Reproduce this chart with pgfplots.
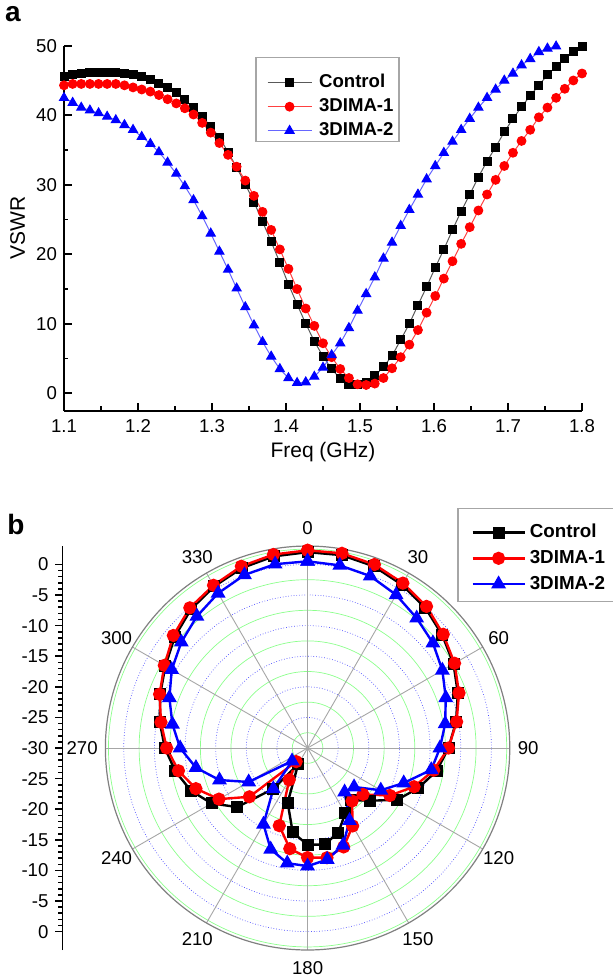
\documentclass[border=0pt]{standalone}
\usepackage{fontspec}
\setmainfont{Liberation Sans}
\usepackage{pgfplots}
\usepackage{pgfplotstable}
\pgfplotsset{compat=1.18}

% VSWR vs frequency
\pgfplotstableread{
f      ctrl  dA    dB
1.1000 45.5  44.3  42.5
1.1117 45.8  44.5  41.8
1.1233 46.0  44.5  41.1
1.1350 46.1  44.5  40.7
1.1467 46.1  44.5  40.3
1.1583 46.1  44.5  39.8
1.1700 46.1  44.5  39.3
1.1817 46.0  44.3  38.6
1.1933 45.8  44.0  37.9
1.2050 45.5  43.7  36.9
1.2167 45.1  43.4  35.9
1.2283 44.6  42.9  34.7
1.2400 44.0  42.3  33.2
1.2517 43.2  41.7  31.6
1.2633 42.2  41.0  29.8
1.2750 41.1  40.1  27.8
1.2867 39.8  38.9  25.5
1.2983 38.4  37.5  23.0
1.3100 36.8  36.0  20.4
1.3217 34.7  34.3  17.8
1.3333 32.5  32.6  15.1
1.3450 30.1  30.6  12.4
1.3567 27.5  28.4  9.8
1.3683 24.7  26.1  7.4
1.3800 21.8  23.5  5.3
1.3917 18.8  20.7  3.5
1.4033 15.7  17.9  2.2
1.4150 12.8  15.0  1.5
1.4267 10.0  12.2  1.6
1.4383 7.5   9.7   2.4
1.4500 5.3   7.2   3.7
1.4617 3.5   5.2   5.5
1.4733 2.1   3.5   7.2
1.4850 1.2   2.2   9.4
1.4967 1.2   1.3   11.9
1.5083 1.6   1.2   14.3
1.5200 2.5   1.4   16.7
1.5317 3.8   2.2   19.4
1.5433 5.4   3.6   21.7
1.5550 7.7   5.2   24.1
1.5667 10.0  7.0   26.4
1.5783 12.7  9.1   28.6
1.5900 15.3  11.6  30.8
1.6017 18.1  14.0  32.7
1.6133 20.7  16.5  34.6
1.6250 23.5  19.0  36.2
1.6367 26.2  21.5  37.9
1.6483 28.6  23.9  39.5
1.6600 31.1  26.3  41.1
1.6717 33.4  28.6  42.5
1.6833 35.4  30.7  43.7
1.6950 37.6  32.7  45.0
1.7067 39.5  34.6  46.0
1.7183 41.2  36.3  47.2
1.7300 42.8  37.9  48.1
1.7417 44.3  39.7  49.1
1.7533 45.8  41.1  49.6
1.7650 47.0  42.5  49.9
1.7767 48.1  43.8  50.5
1.7883 49.2  45.0  51.2
1.8000 49.9  46.0  52.0
}\vswrdata

% radiation pattern, dB, angle clockwise from top
\pgfplotstableread{
ang  ctrl   dA     dB
0    2.0    2.3    0.5
10   2.0    2.3    0.3
20   1.6    1.9   -0.1
30   0.8    1.1   -1.1
40  -0.1    0.2   -2.3
50  -1.3   -1.1   -3.3
60  -2.5   -2.3   -4.6
70  -3.9   -3.7   -6.0
80  -5.4   -5.3   -7.2
90  -7.0   -7.0   -8.4
100 -8.6   -9.1   -9.5
110 -10.8  -11.5  -13.3
120 -13.1  -14.5  -16.2
130 -16.6  -18.2  -20.1
140 -18.9  -18.7  -20.6
150 -17.7  -15.3  -16.3
160 -15.3  -12.8  -13.1
170 -14.0  -11.8  -11.5
180 -14.2  -12.1  -10.7
190 -16.0  -13.3  -10.9
200 -20.5  -16.5  -12.4
210 -26.9  -24.0  -15.6
220 -21.3  -27.1  -21.3
230 -15.0  -17.6  -26.7
240 -11.9  -13.3  -18.9
250 -9.7   -10.6  -14.7
260 -8.1   -8.6   -11.5
270 -6.7   -7.0   -9.2
280 -5.5   -5.7   -7.6
290 -4.4   -4.3   -6.0
300 -3.2   -3.0   -4.4
310 -1.7   -1.4   -3.1
320 -0.4   -0.1   -1.9
330  0.5    0.7   -0.8
340  1.3    1.6    0.1
350  1.8    2.1    0.5
360  2.0    2.3    0.5
}\patdata

\tikzset{
  ringA/.style={green!45, line width=0.35pt},
  ringB/.style={blue!70, line width=0.35pt, densely dotted},
  spoke/.style={gray!70, line width=0.45pt},
  anglab/.style={font=\fontsize{9.3}{11}\selectfont},
}

\begin{document}
\begin{tikzpicture}
\useasboundingbox (0,0) rectangle (306pt,-490pt);

\node[font=\bfseries\fontsize{14}{16}\selectfont] at (6.5pt,-7pt) {a};
\node[font=\bfseries\fontsize{14}{16}\selectfont] at (8pt,-262pt) {b};

% legend frames (Origin style, more room above the first row)
\draw[gray!70, line width=0.6pt, fill=white] (128pt,-28.65pt) rectangle (199.5pt,-70.85pt);
\draw[gray!70, line width=0.6pt, fill=white] (229pt,-254.15pt) rectangle (320pt,-300.85pt);

\begin{axis}[
  at={(32pt,-205.35pt)}, anchor=south west,
  scale only axis, width=259pt, height=182.5pt,
  xmin=1.1, xmax=1.8, ymin=-2.5, ymax=50,
  axis lines=left, axis line style={-, line width=0.9pt},
  xtick={1.1,1.2,1.3,1.4,1.5,1.6,1.7,1.8}, ytick={0,10,20,30,40,50},
  minor x tick num=1, minor y tick num=1,
  tick align=inside, major tick length=4pt, minor tick length=2.2pt,
  tick style={black, line width=0.9pt},
  xticklabel style={/pgf/number format/.cd, fixed, fixed zerofill, precision=1,
    /tikz/.cd, yshift=-1pt},
  /pgf/number format/assume math mode=true,
  tick label style={font=\fontsize{9.3}{11}\selectfont},
  xlabel={Freq (GHz)}, ylabel={VSWR},
  label style={font=\fontsize{10.5}{12}\selectfont},
  xlabel style={at={(axis description cs:0.5,-0.113)}, anchor=center},
  ylabel style={at={(axis description cs:-0.0896,0.5)}, anchor=center},
  legend style={at={(0.3913,0.8329)}, anchor=west, draw=none, fill=none,
    inner sep=0pt, font=\bfseries\fontsize{9.3}{11}\selectfont,
    nodes={inner sep=0pt, text height=7pt, text depth=2pt},
    row sep=3pt, column sep=3.5pt},
  legend cell align=left,
  legend image code/.code={\draw[mark repeat=2, mark phase=2, #1]
    plot coordinates {(0pt,0pt) (11pt,0pt) (22pt,0pt)};},
]
\addplot[black!65, line width=0.5pt, mark=square*, mark size=2pt,
  mark options={black, fill=black}] table[x=f, y=ctrl] {\vswrdata};
\addplot[red!75, line width=0.5pt, mark=*, mark size=2.2pt,
  mark options={red, fill=red}] table[x=f, y=dA] {\vswrdata};
\addplot[blue!60, line width=0.5pt, mark=triangle*, mark size=2.6pt,
  mark options={blue, fill=blue}] table[x=f, y=dB] {\vswrdata};
\legend{Control, 3DIMA-1, 3DIMA-2}
\end{axis}

\begin{axis}[
  at={(31.25pt,-475pt)}, anchor=south west,
  scale only axis, width=224.25pt, height=202pt,
  xmin=-40, xmax=33.2, ymin=-33, ymax=33,
  axis x line=none, axis y line=left, axis line style={-, line width=0.9pt},
  ytick={-30,-25,-20,-15,-10,-5,0,5,10,15,20,25,30},
  yticklabels={0,-5,-10,-15,-20,-25,-30,-25,-20,-15,-10,-5,0},
  minor y tick num=4,
  tick align=outside, major tick length=3.5pt, minor tick length=2pt,
  tick style={black, line width=0.8pt},
  tick label style={font=\fontsize{9.3}{11}\selectfont},
  clip=false,
  legend style={at={(0.9108,0.9696)}, anchor=west, draw=none, fill=none,
    inner sep=0pt, font=\bfseries\fontsize{9.4}{11}\selectfont,
    nodes={inner sep=0pt, text height=7pt, text depth=2pt},
    row sep=3.85pt, column sep=2pt},
  legend cell align=left,
  legend image code/.code={\draw[mark repeat=2, mark phase=2, #1]
    plot coordinates {(0pt,0pt) (13pt,0pt) (26pt,0pt)};},
]
% grid rings and spokes
\draw[ringA] (axis cs:0,0) circle[radius=2.5];
\draw[ringA] (axis cs:0,0) circle[radius=7.5];
\draw[ringA] (axis cs:0,0) circle[radius=12.5];
\draw[ringA] (axis cs:0,0) circle[radius=17.5];
\draw[ringA] (axis cs:0,0) circle[radius=22.5];
\draw[ringA] (axis cs:0,0) circle[radius=27.5];
\draw[ringA] (axis cs:0,0) circle[radius=32.5];
\draw[ringB] (axis cs:0,0) circle[radius=5];
\draw[ringB] (axis cs:0,0) circle[radius=10];
\draw[ringB] (axis cs:0,0) circle[radius=15];
\draw[ringB] (axis cs:0,0) circle[radius=20];
\draw[ringB] (axis cs:0,0) circle[radius=25];
\draw[ringB] (axis cs:0,0) circle[radius=30];
\draw[spoke] (axis cs:0,33) -- (axis cs:0,-33);
\draw[spoke] (axis cs:-33,0) -- (axis cs:33,0);
\draw[spoke] (axis cs:16.5,28.579) -- (axis cs:-16.5,-28.579);
\draw[spoke] (axis cs:28.579,16.5) -- (axis cs:-28.579,-16.5);
\draw[spoke] (axis cs:28.579,-16.5) -- (axis cs:-28.579,16.5);
\draw[spoke] (axis cs:16.5,-28.579) -- (axis cs:-16.5,28.579);
\draw[gray, line width=0.6pt] (axis cs:0,0) circle[radius=33];
\node[anglab] at (axis cs:0,36) {0};
\node[anglab] at (axis cs:18,31.18) {30};
\node[anglab] at (axis cs:31.18,18) {60};
\node[anglab] at (axis cs:36,0) {90};
\node[anglab] at (axis cs:31.18,-18) {120};
\node[anglab] at (axis cs:18,-31.18) {150};
\node[anglab] at (axis cs:0,-36) {180};
\node[anglab] at (axis cs:-18,-31.18) {210};
\node[anglab] at (axis cs:-31.18,-18) {240};
\node[anglab] at (axis cs:-36.8,0) {270};
\node[anglab] at (axis cs:-31.18,18) {300};
\node[anglab] at (axis cs:-18,31.18) {330};

\addplot[black, line width=1.2pt, mark=square*, mark size=2.4pt, data cs=polar]
  table[x expr={90-\thisrow{ang}}, y expr={\thisrow{ctrl}+30}] {\patdata};
\addplot[red, line width=1.2pt, mark=*, mark size=2.7pt, data cs=polar]
  table[x expr={90-\thisrow{ang}}, y expr={\thisrow{dA}+30}] {\patdata};
\addplot[blue, line width=1.2pt, mark=triangle*, mark size=3.1pt, data cs=polar]
  table[x expr={90-\thisrow{ang}}, y expr={\thisrow{dB}+30}] {\patdata};
\legend{Control, 3DIMA-1, 3DIMA-2}
\end{axis}
\end{tikzpicture}
\end{document}
